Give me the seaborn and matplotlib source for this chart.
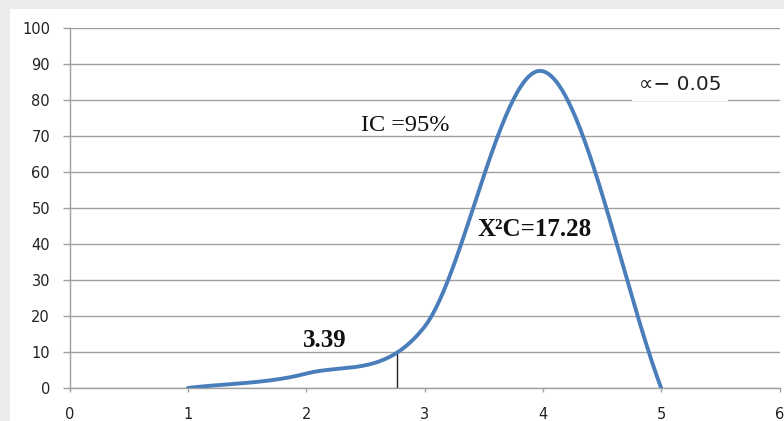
import matplotlib

matplotlib.use("Agg")

import matplotlib.pyplot as plt
import numpy as np
import pandas as pd
import seaborn as sns
from matplotlib.patches import Rectangle

# chi-square curve points (Excel smoothed line)
X_POINTS = [1, 2, 3, 4, 5]
Y_POINTS = [0, 4, 17, 88, 0]
CRIT_X = 2.77

X_TICKS = [0, 1, 2, 3, 4, 5, 6]
Y_TICKS = [0, 10, 20, 30, 40, 50, 60, 70, 80, 90, 100]

LABEL_IC = "IC =95%"
LABEL_CHI = "X²C=17.28"
LABEL_CRIT = "3.39"
LABEL_ALPHA = "∝− 0.05"

LINE_COLOR = "#4a7ebb"
GRID_COLOR = "#a0a0a0"


def smooth_curve(xs, ys, n=60):
    # Catmull-Rom style smoothing, similar to Excel's "smoothed line"
    xs = np.asarray(xs, float)
    ys = np.asarray(ys, float)
    out_x, out_y = [], []
    for i in range(len(xs) - 1):
        x0, x1 = xs[i], xs[i + 1]
        y0, y1 = ys[i], ys[i + 1]
        if i == 0:
            m0 = (y1 - y0) / (x1 - x0)
        else:
            m0 = (y1 - ys[i - 1]) / (x1 - xs[i - 1])
        if i == len(xs) - 2:
            m1 = (y1 - y0) / (x1 - x0)
        else:
            m1 = (ys[i + 2] - y0) / (xs[i + 2] - x0)
        h = x1 - x0
        t = np.linspace(0, 1, n, endpoint=(i == len(xs) - 2))
        h00 = 2 * t**3 - 3 * t**2 + 1
        h10 = t**3 - 2 * t**2 + t
        h01 = -2 * t**3 + 3 * t**2
        h11 = t**3 - t**2
        out_x.append(x0 + t * h)
        out_y.append(h00 * y0 + h10 * h * m0 + h01 * y1 + h11 * h * m1)
    return np.concatenate(out_x), np.concatenate(out_y)


sx, sy = smooth_curve(X_POINTS, Y_POINTS)
curve = pd.DataFrame({"x": sx, "y": sy})
crit_y = float(np.interp(CRIT_X, sx, sy))

sns.set_theme(style="white")
plt.rcParams["font.family"] = ["DejaVu Sans"]

fig = plt.figure(figsize=(7.84, 4.21), dpi=100)
fig.patch.set_facecolor("#ececec")
fig.add_artist(Rectangle((10 / 784, 0), 1, 1 - 9 / 421, transform=fig.transFigure,
                         facecolor="white", edgecolor="none", zorder=0))
ax = fig.add_axes([69.5 / 784, 33 / 421, 710 / 784, 360 / 421])
ax.set_facecolor("white")

sns.lineplot(data=curve, x="x", y="y", ax=ax, color=LINE_COLOR, linewidth=2.8,
             sort=False, estimator=None, zorder=3)
ax.plot([CRIT_X, CRIT_X], [0, crit_y], color="#222222", linewidth=1.0, zorder=2)

ax.set_xlim(X_TICKS[0], X_TICKS[-1])
ax.set_ylim(Y_TICKS[0], Y_TICKS[-1])
ax.set_xticks(X_TICKS)
ax.set_yticks(Y_TICKS)
ax.set_xlabel("")
ax.set_ylabel("")
ax.yaxis.grid(True, color=GRID_COLOR, linewidth=1.0)
ax.xaxis.grid(False)
for side in ["top", "right"]:
    ax.spines[side].set_visible(False)
for side in ["left", "bottom"]:
    ax.spines[side].set_color(GRID_COLOR)
    ax.spines[side].set_linewidth(1.0)
ax.tick_params(axis="y", length=5, width=1.0, color=GRID_COLOR, pad=9,
               labelsize=10.5, labelcolor="#222222", left=True)
ax.tick_params(axis="x", length=3, width=1.0, color=GRID_COLOR, pad=11,
               labelsize=10.5, labelcolor="#222222", bottom=True)

serif = ["Liberation Serif", "DejaVu Serif"]
ax.text(2.46, 73, LABEL_IC, fontsize=17.5, family=serif, color="#111111",
        va="center", ha="left", zorder=4)
ax.text(3.45, 44, LABEL_CHI, fontsize=18, family=serif, fontweight="bold",
        color="#111111", va="center", ha="left", zorder=4)
ax.text(1.97, 13.3, LABEL_CRIT, fontsize=18, family=serif, fontweight="bold",
        color="#111111", va="center", ha="left", zorder=4)
ax.text(5.16, 84.2, LABEL_ALPHA, fontsize=14.5, color="#222222", va="center",
        ha="center", zorder=4,
        bbox=dict(facecolor="white", edgecolor="none", pad=5))

fig.savefig("out.png", dpi=100)
plt.close(fig)
